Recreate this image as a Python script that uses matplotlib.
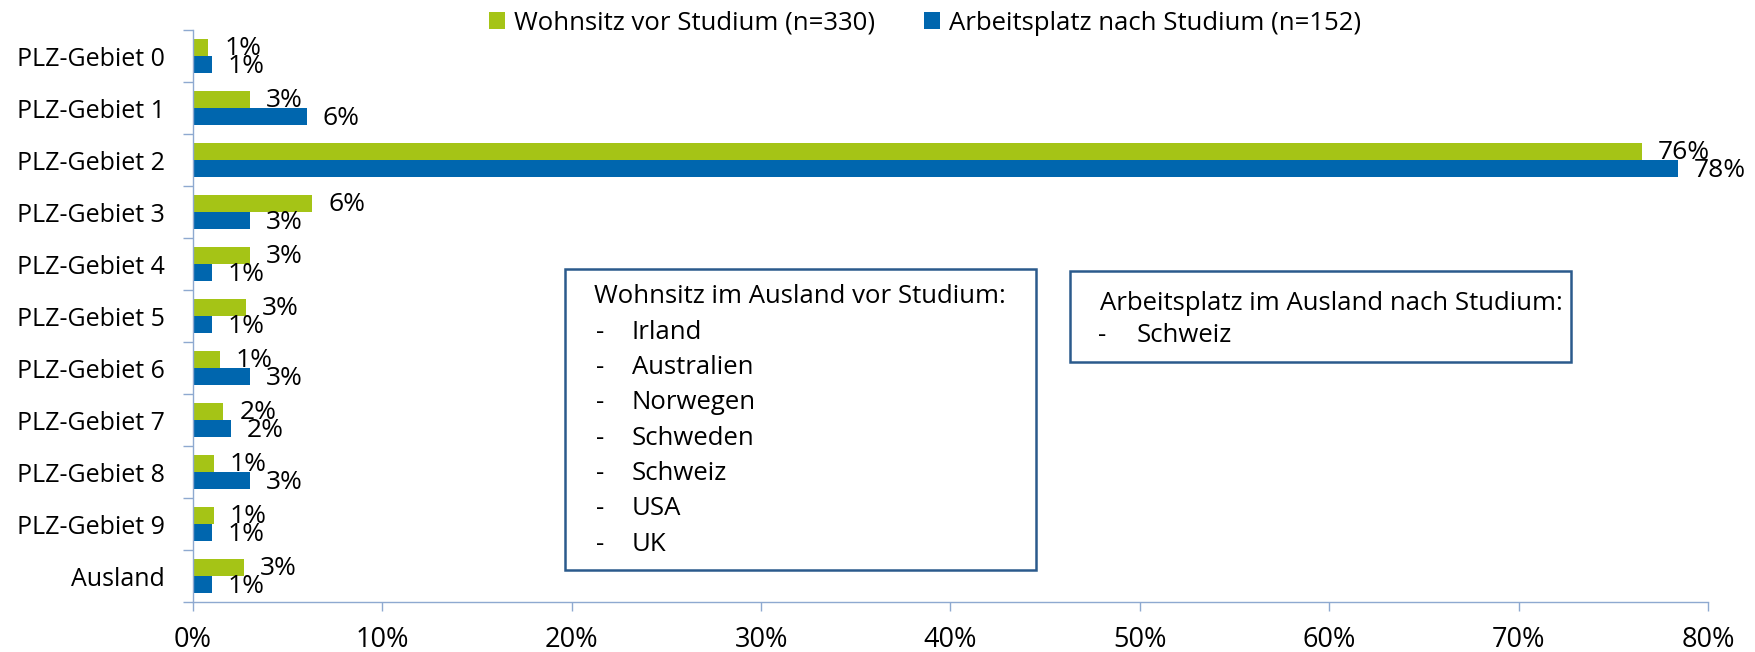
import matplotlib
matplotlib.use("Agg")
import matplotlib.pyplot as plt
from matplotlib.patches import Rectangle, Patch
import numpy as np

plt.rcParams['font.family'] = ['Open Sans', 'DejaVu Sans']

categories = ["PLZ-Gebiet 0", "PLZ-Gebiet 1", "PLZ-Gebiet 2", "PLZ-Gebiet 3", "PLZ-Gebiet 4",
              "PLZ-Gebiet 5", "PLZ-Gebiet 6", "PLZ-Gebiet 7", "PLZ-Gebiet 8", "PLZ-Gebiet 9", "Ausland"]
wohnsitz = [0.8, 3.0, 76.5, 6.3, 3.0, 2.8, 1.4, 1.6, 1.1, 1.1, 2.7]
arbeitsplatz = [1.0, 6.0, 78.4, 3.0, 1.0, 1.0, 3.0, 2.0, 3.0, 1.0, 1.0]
series_names = ["Wohnsitz vor Studium (n=330)", "Arbeitsplatz nach Studium (n=152)"]
x_ticks = [0, 10, 20, 30, 40, 50, 60, 70, 80]
box1_title = "Wohnsitz im Ausland vor Studium:"
box1_items = ["Irland", "Australien", "Norwegen", "Schweden", "Schweiz", "USA", "UK"]
box2_title = "Arbeitsplatz im Ausland nach Studium:"
box2_items = ["Schweiz"]

GREEN = "#A5C416"
BLUE = "#0066AE"
AXIS = "#8EA9D0"
BOX = "#2B5A8C"
FS = 18.5
FS_CAT = 18
FS_TICK = 19.5
FS_LBL = 19

W, H = 1756, 652
fig = plt.figure(figsize=(W / 100, H / 100), dpi=100)
ax = fig.add_axes([193 / W, 1 - 602 / H, (1708 - 193) / W, (602 - 30) / H])

y = np.arange(len(categories))
h = 0.336
ax.barh(y - h / 2, wohnsitz, height=h, color=GREEN, label=series_names[0])
ax.barh(y + h / 2, arbeitsplatz, height=h, color=BLUE, label=series_names[1])

for yi, v in zip(y, wohnsitz):
    ax.annotate(f"{round(v):d}%", (v, yi - h / 2), xytext=(11.5, -1), textcoords="offset points",
                ha="left", va="center", fontsize=FS_LBL)
for yi, v in zip(y, arbeitsplatz):
    ax.annotate(f"{round(v):d}%", (v, yi + h / 2), xytext=(11.5, -1.5), textcoords="offset points",
                ha="left", va="center", fontsize=FS_LBL)

ax.set_xlim(0, 80)
ax.set_ylim(len(categories) - 0.5, -0.5)
ax.set_xticks(x_ticks)
ax.set_xticklabels([f"{t}%" for t in x_ticks], fontsize=FS_TICK)
ax.set_yticks(y)
ax.set_yticklabels(categories, fontsize=FS_CAT)
ax.set_yticks(np.arange(len(categories) + 1) - 0.5, minor=True)
ax.tick_params(axis="y", which="major", length=0, pad=20)
ax.tick_params(axis="y", which="minor", length=7.5, width=1, color=AXIS)
ax.tick_params(axis="x", which="major", length=6.5, width=1, color=AXIS, pad=11)
for s in ["top", "right"]:
    ax.spines[s].set_visible(False)
for s in ["left", "bottom"]:
    ax.spines[s].set_color(AXIS)
    ax.spines[s].set_linewidth(1)

handles = [Patch(facecolor=GREEN, label=series_names[0]), Patch(facecolor=BLUE, label=series_names[1])]
fig.legend(handles=handles, loc="center", bbox_to_anchor=(925 / W, 1 - 23 / H), ncol=2, frameon=False,
           fontsize=FS, handlelength=0.62, handleheight=0.62, handletextpad=0.35, columnspacing=1.9,
           borderpad=0, borderaxespad=0)

def fx(px):
    return px / W

def fy(py):
    return 1 - py / H

def draw_box(x0, y0, x1, y1, title, items, tx, dx, ix, ty, dy):
    fig.patches.append(Rectangle((fx(x0), fy(y1)), fx(x1 - x0), (y1 - y0) / H, transform=fig.transFigure,
                                 facecolor="white", edgecolor=BOX, linewidth=1.8))
    fig.text(fx(tx), fy(ty), title, fontsize=FS, ha="left", va="center")
    for k, it in enumerate(items):
        yy = ty + (k + 1) * dy
        fig.text(fx(dx), fy(yy), "-", fontsize=FS, ha="left", va="center")
        fig.text(fx(ix), fy(yy), it, fontsize=FS, ha="left", va="center")

draw_box(565, 269, 1036, 570, box1_title, box1_items, 594, 596, 632, 297, 35.3)
draw_box(1070, 271, 1571, 362, box2_title, box2_items, 1100, 1098, 1137, 304, 31)

fig.savefig("out.png", dpi=100)
